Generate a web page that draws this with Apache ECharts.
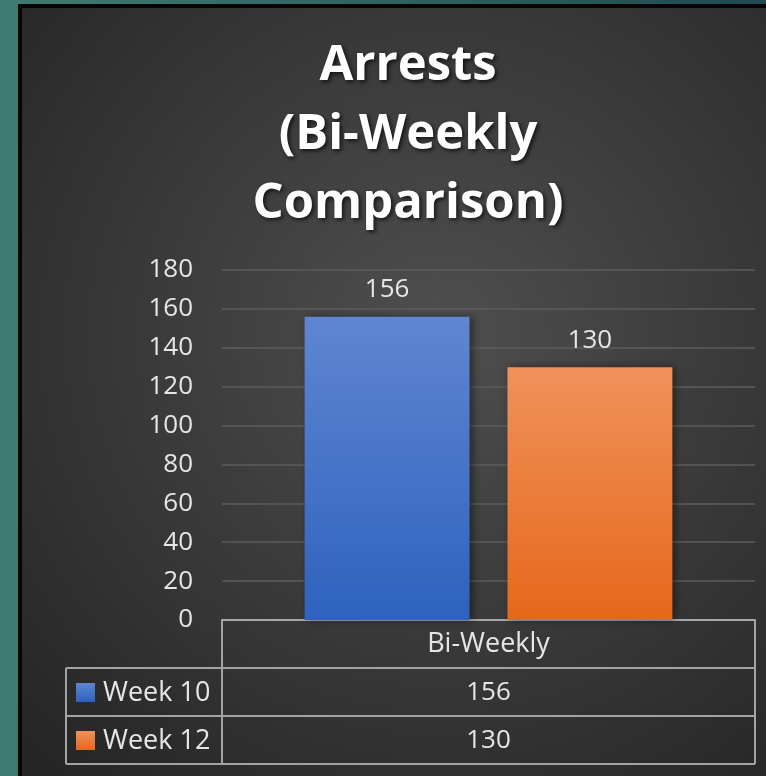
<!DOCTYPE html>
<html><head><meta charset="utf-8">
<script src="https://cdn.jsdelivr.net/npm/echarts@6/dist/echarts.min.js"></script>
<style>html,body{margin:0;padding:0;background:#3a786d;}#c{width:766px;height:776px;}</style>
</head><body><div id="c"></div>
<script>
const titleText = 'Arrests\n(Bi-Weekly\nComparison)';
const categories = ['Bi-Weekly'];
const seriesNames = ['Week 10', 'Week 12'];
const week10 = [156];
const week12 = [130];
const yTicks = {min: 0, max: 180, interval: 20};

const FONT = '"Open Sans", Lato, sans-serif';
const FS = 26;
const blueGrad = new echarts.graphic.LinearGradient(0,0,0,1,[{offset:0,color:'#5f86d1'},{offset:1,color:'#2e62be'}]);
const orangeGrad = new echarts.graphic.LinearGradient(0,0,0,1,[{offset:0,color:'#f1915c'},{offset:1,color:'#e5681a'}]);
const fills = [blueGrad, orangeGrad];
const values = [week10, week12];

const chart = echarts.init(document.getElementById('c'), null, {renderer:'canvas'});
const GRID = {left:222, right:11, top:270, bottom:156};

const bgGraphics = [
  {type:'rect', z:-10, silent:true, shape:{x:0,y:0,width:766,height:776},
   style:{fill:new echarts.graphic.LinearGradient(0,0,1,0,[{offset:0,color:'#3d7c71'},{offset:1,color:'#1e4a50'}])}},
  {type:'rect', z:-9, silent:true, shape:{x:18,y:4,width:760,height:780}, style:{fill:'#050505'}},
  {type:'rect', z:-8, silent:true, shape:{x:22,y:8,width:760,height:780},
   style:{fill:new echarts.graphic.RadialGradient(0.55,0.42,0.75,[{offset:0,color:'#4f4f4f'},{offset:1,color:'#262626'}])}}
];

chart.setOption({
  animation:false,
  backgroundColor:'transparent',
  title:{text:titleText, left:403, top:27, textAlign:'center',
    textStyle:{color:'#ffffff', fontFamily:'"Open Sans", sans-serif', fontWeight:'bold', fontSize:49, lineHeight:69,
      textShadowColor:'rgba(0,0,0,0.7)', textShadowBlur:4, textShadowOffsetX:2, textShadowOffsetY:2}},
  grid:GRID,
  xAxis:{type:'category', data:categories,
    axisLine:{show:true, lineStyle:{color:'#a8a8a8', width:2}},
    axisTick:{show:false},
    axisLabel:{color:'#e6e6e6', fontFamily:FONT, fontSize:FS+1, margin:11}},
  yAxis:{type:'value', min:yTicks.min, max:yTicks.max, interval:yTicks.interval,
    axisLine:{show:false}, axisTick:{show:false},
    axisLabel:{color:'#e6e6e6', fontFamily:FONT, fontSize:FS, margin:29, padding:[3,0,0,0]},
    splitLine:{lineStyle:{color:'#5c5c5c', width:1.5}}},
  series: seriesNames.map((n,i)=>({
    type:'bar', name:n, data:values[i],
    barCategoryGap:'31%', barGap:'23%',
    itemStyle:{color:fills[i], shadowColor:'rgba(0,0,0,0.45)', shadowBlur:8, shadowOffsetX:3, shadowOffsetY:0},
    label:{show:true, position:'top', distance:14, color:'#e6e6e6', fontFamily:FONT, fontSize:FS}
  })),
  graphic: bgGraphics
});

// Data table drawn under the axis, positions derived from the grid
const zeroY = chart.convertToPixel({yAxisIndex:0}, 0);
const gl = GRID.left, gr = 766 - GRID.right;
const rowH = 48, leftX = 66;
const lineStyle = {stroke:'#a3a3a3', lineWidth:2};
const tbl = [];
const L = (x1,y1,x2,y2)=>tbl.push({type:'line', silent:true, z:5, shape:{x1,y1,x2,y2}, style:lineStyle});
const r1 = zeroY + rowH, r2 = zeroY + 2*rowH, r3 = zeroY + 3*rowH;
L(gl, zeroY, gl, r3);
L(gr, zeroY, gr, r3);
L(leftX, r1, gr, r1);
L(leftX, r2, gr, r2);
L(leftX, r3, gr, r3);
L(leftX, r1, leftX, r3);
const cx = (gl + gr)/2;
seriesNames.forEach((n,i)=>{
  const yc = zeroY + rowH*(i+1) + rowH/2;
  tbl.push({type:'rect', silent:true, z:6, shape:{x:leftX+10, y:yc-9, width:19, height:19}, style:{fill:fills[i]}});
  tbl.push({type:'text', silent:true, z:6, x:leftX+37, y:yc+1, style:{text:n, fill:'#e6e6e6', font:(FS+1)+'px '+FONT, verticalAlign:'middle'}});
  tbl.push({type:'text', silent:true, z:6, x:cx, y:yc+1, style:{text:String(values[i][0]), fill:'#e6e6e6', font:FS+'px '+FONT, align:'center', verticalAlign:'middle'}});
});
chart.setOption({graphic: bgGraphics.concat(tbl)});
</script>
</body></html>
